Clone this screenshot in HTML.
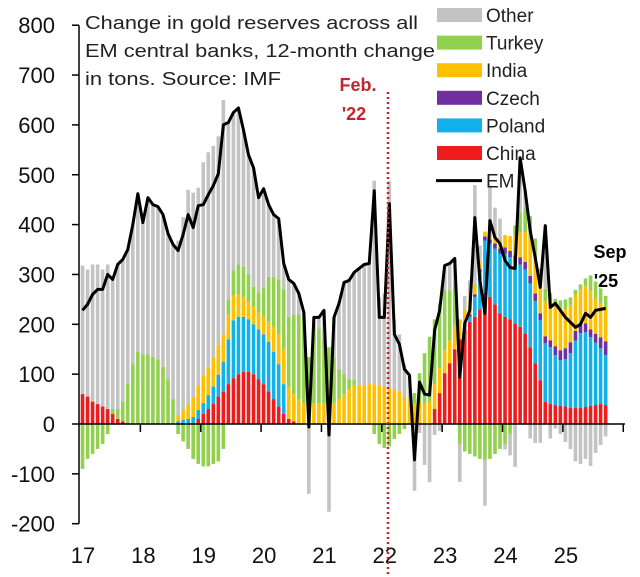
<!DOCTYPE html>
<html><head><meta charset="utf-8"><style>
html,body{margin:0;padding:0;background:#fff;}
svg{display:block;font-family:"Liberation Sans",sans-serif;}
</style></head><body>
<svg id="chart" width="640" height="577" viewBox="0 0 640 577" xmlns="http://www.w3.org/2000/svg">
<g id="bars"></g>
<g id="axes"></g>
<path id="emline" fill="none" stroke="#000" stroke-width="3" stroke-linejoin="round"></path>
<line x1="388" y1="92" x2="388" y2="577" stroke="#c0272d" stroke-width="2.5" stroke-dasharray="2,3"></line>
<text x="358" y="91" font-size="18" font-weight="bold" fill="#c0272d" text-anchor="middle">Feb.</text>
<text x="354" y="120" font-size="18" font-weight="bold" fill="#c0272d" text-anchor="middle">'22</text>
<text x="610" y="258" font-size="18" font-weight="bold" fill="#000" text-anchor="middle">Sep</text>
<text x="606" y="287" font-size="18" font-weight="bold" fill="#000" text-anchor="middle">'25</text>
<g font-size="18" fill="#222">
<text x="85" y="29" textLength="333" lengthAdjust="spacingAndGlyphs">Change in gold reserves across all</text>
<text x="85" y="57" textLength="350" lengthAdjust="spacingAndGlyphs">EM central banks, 12-month change</text>
<text x="85" y="85" textLength="196" lengthAdjust="spacingAndGlyphs">in tons. Source: IMF</text>
</g>
<g id="legend" font-size="19" fill="#222"></g>
</svg>
<script>
const months = 105;
const yTicks = [800,700,600,500,400,300,200,100,0,-100,-200];
const yearLabels = ["17","18","19","20","21","22","23","24","25"];
const china = [60,55,45,40,35,30,20,10,5,0,0,0,0,0,0,0,0,0,0,0,0,0,0,10,20,30,40,55,65,80,92,100,105,105,100,90,80,65,50,35,20,10,5,0,0,0,0,0,0,0,0,0,0,0,0,0,0,0,0,0,0,0,0,0,0,0,0,0,0,0,30,62,102,122,150,170,190,205,215,230,262,255,240,222,215,210,202,195,182,154,122,88,44,40,38,36,35,32,32,32,34,36,38,40,38];
const poland = [0,0,0,0,0,0,0,0,0,0,0,0,0,0,0,0,0,0,0,5,8,10,14,18,22,28,35,44,60,90,116,115,110,105,100,100,100,100,95,85,60,0,0,0,0,0,0,0,0,0,0,0,0,0,0,0,0,0,0,0,0,0,0,0,0,0,0,0,0,0,0,0,0,0,0,0,5,10,40,75,106,107,112,120,127,125,122,125,128,128,125,120,118,114,100,92,95,110,135,150,150,138,125,112,100];
const czech = [0,0,0,0,0,0,0,0,0,0,0,0,0,0,0,0,0,0,0,0,0,0,0,0,0,0,0,0,0,0,0,0,0,0,0,0,0,0,0,0,0,0,0,0,0,0,0,0,0,0,0,0,0,0,0,0,0,0,0,0,0,0,0,0,0,0,0,0,0,0,0,0,0,0,0,0,5,5,5,5,8,8,10,10,12,12,14,14,15,15,15,14,14,14,18,20,22,22,20,18,18,16,18,22,28];
const india = [0,0,0,0,0,0,0,0,0,0,0,0,0,0,0,0,0,0,0,12,20,30,40,50,55,55,58,60,55,50,50,45,40,35,35,34,34,40,50,60,70,65,55,50,42,40,42,42,42,40,42,50,60,70,78,78,78,80,80,78,75,72,70,65,55,45,42,42,42,45,50,50,46,46,46,40,30,25,20,15,10,10,15,20,25,30,40,50,60,74,70,60,70,80,80,80,78,75,72,70,75,78,70,68,66];
const turkey = [-90,-70,-60,-50,-40,-20,10,20,40,80,120,145,140,140,135,130,115,90,50,-20,-35,-50,-70,-80,-85,-85,-80,-75,-50,30,50,60,60,55,40,40,60,90,100,110,120,140,160,170,170,94,160,150,130,114,90,60,40,20,10,0,0,0,-20,-40,-48,-45,-30,-20,-10,0,20,60,100,130,130,130,120,100,80,-40,-55,-60,-65,-70,-72,-70,-60,-50,-40,-20,20,40,50,46,40,30,25,15,15,20,20,15,10,10,15,30,35,30,25];
const other = [258,255,275,280,275,290,260,290,285,270,280,317,264,314,305,306,305,292,310,351,387,430,410,396,428,432,425,418,470,355,317,314,275,240,239,190,198,145,125,122,52,75,62,42,12,-140,12,22,56,-176,82,132,184,198,216,234,242,242,408,176,187,415,140,115,65,53,-134,-18,-82,-117,-22,-14,50,54,56,-76,27,43,199,33,-92,98,57,40,-11,-43,-86,110,33,-29,-38,-38,127,-29,-9,-20,-36,-50,-75,-80,-70,-84,-58,-42,-25];
const em = [228,240,260,270,270,300,290,320,330,350,400,462,404,454,440,436,420,382,360,348,380,420,394,438,440,460,478,502,600,605,625,634,590,540,514,454,472,440,420,412,322,290,282,262,224,-6,214,214,228,-22,214,242,284,288,304,312,320,322,468,214,214,442,180,160,110,98,-72,84,60,58,188,228,318,322,332,94,202,228,414,288,222,408,374,362,328,314,312,534,468,388,334,274,398,234,242,228,214,204,194,200,222,214,228,230,232];

const X0 = 80, MW = 5.03, Y0 = 424, YS = 0.4985;
function xOf(m){ return X0 + MW*(m+0.5); }
function yOf(v){ return Y0 - v*YS; }
const NS = "http://www.w3.org/2000/svg";
function mk(tag, attrs){ const e=document.createElementNS(NS,tag); for(const k in attrs) e.setAttribute(k,attrs[k]); return e; }

const seriesList = [
  {name:"china", vals:china, color:"#ee1c1c"},
  {name:"poland", vals:poland, color:"#12b1ea"},
  {name:"czech", vals:czech, color:"#7030a0"},
  {name:"india", vals:india, color:"#ffc000"},
  {name:"turkey", vals:turkey, color:"#92d050"},
  {name:"other", vals:other, color:"#c3c3c3"}
];
const barsG = document.getElementById("bars");
for(let m=0;m<months;m++){
  let pos=0, neg=0;
  for(const s of seriesList){
    const v = s.vals[m];
    if(!v) continue;
    let y1,y2;
    if(v>0){ y1=yOf(pos+v); y2=yOf(pos); pos+=v; }
    else { y1=yOf(neg); y2=yOf(neg+v); neg+=v; }
    const r = mk("rect",{x:(xOf(m)-1.8).toFixed(2), y:y1.toFixed(2), width:3.6, height:(y2-y1).toFixed(2), fill:s.color});
    
    
    barsG.appendChild(r);
  }
}
let d="";
for(let m=0;m<months;m++){ d += (m?"L":"M")+xOf(m).toFixed(2)+","+yOf(em[m]).toFixed(2); }
document.getElementById("emline").setAttribute("d", d);

const ax = document.getElementById("axes");
const vline = mk("line",{x1:79,y1:yOf(800),x2:79,y2:yOf(-200),stroke:"#000","stroke-width":1.5});


ax.appendChild(vline);
const hline = mk("line",{x1:79,y1:Y0,x2:625,y2:Y0,stroke:"#000","stroke-width":1.5});


ax.appendChild(hline);
for(const t of yTicks){
  const tk = mk("line",{x1:72,y1:yOf(t),x2:79,y2:yOf(t),stroke:"#000","stroke-width":1.5});
  
  
  ax.appendChild(tk);
  const tx = mk("text",{x:55,y:yOf(t)+8,"font-size":22,"text-anchor":"end",fill:"#111"});
  tx.textContent = t;
  
  
  ax.appendChild(tx);
}
for(let i=0;i<yearLabels.length;i++){
  const x = X0 + i*12*MW;
  if(i>0){
    const tk = mk("line",{x1:x,y1:Y0,x2:x,y2:Y0+8,stroke:"#000","stroke-width":1.5});
    
    
    ax.appendChild(tk);
  }
  const tx = mk("text",{x:x+3,y:563,"font-size":22,"text-anchor":"middle",fill:"#111"});
  tx.textContent = yearLabels[i];
  
  
  ax.appendChild(tx);
}
const endTick = mk("line",{x1:X0+9*12*MW,y1:Y0,x2:X0+9*12*MW,y2:Y0+8,stroke:"#000","stroke-width":1.5});


ax.appendChild(endTick);

const legendItems = [["Other","#c3c3c3"],["Turkey","#92d050"],["India","#ffc000"],["Czech","#7030a0"],["Poland","#12b1ea"],["China","#ee1c1c"],["EM",null]];
const lg = document.getElementById("legend");
legendItems.forEach((it,i)=>{
  const cy = 15 + i*27.6;
  let sw;
  if(it[1]) sw = mk("rect",{x:437,y:cy-7,width:45,height:14,fill:it[1]});
  else sw = mk("line",{x1:436,y1:cy,x2:482,y2:cy,stroke:"#000","stroke-width":3});
  
  
  lg.appendChild(sw);
  const t = mk("text",{x:486,y:cy+7});
  t.textContent = it[0];
  
  
  lg.appendChild(t);
});
</script>
</body></html>
